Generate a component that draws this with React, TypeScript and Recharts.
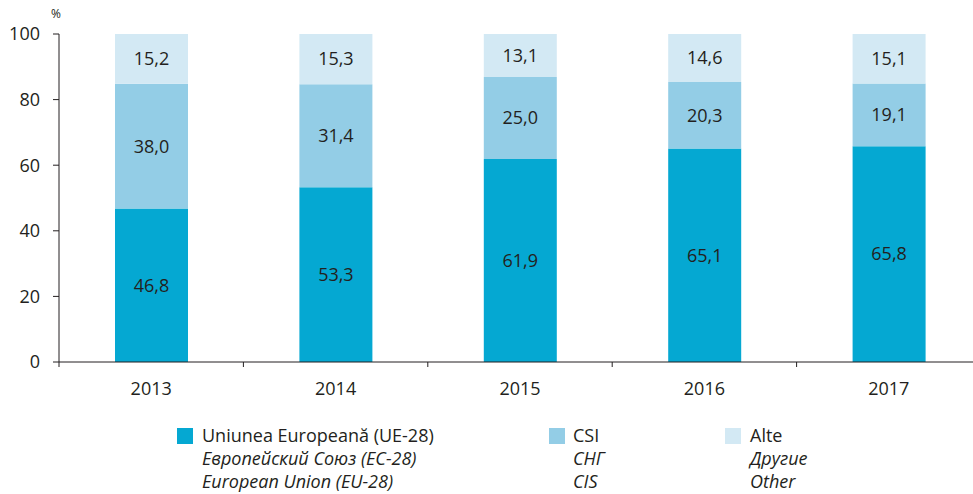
import { BarChart, Bar, XAxis, YAxis, LabelList } from 'recharts';

const YEARS = ['2013', '2014', '2015', '2016', '2017'];
const EU = [46.8, 53.3, 61.9, 65.1, 65.8];
const CIS = [38.0, 31.4, 25.0, 20.3, 19.1];
const OTHER = [15.2, 15.3, 13.1, 14.6, 15.1];
const Y_TICKS = [0, 20, 40, 60, 80, 100];

const SERIES = [
  { key: 'eu', color: '#05a8d2', lines: ['Uniunea Europeană (UE-28)', 'Европейский Союз (ЕС-28)', 'European Union (EU-28)'] },
  { key: 'cis', color: '#93cde6', lines: ['CSI', 'СНГ', 'CIS'] },
  { key: 'other', color: '#d3e9f4', lines: ['Alte', 'Другие', 'Other'] },
];

const data = YEARS.map((year, i) => ({ year, eu: EU[i], cis: CIS[i], other: OTHER[i] }));

const INK = '#231f20';
const FONT = '"Open Sans", sans-serif';
const FS = 18;
const CHART_W = 981;
const Y_AXIS_W = 59;
const HALF_BAND = (CHART_W - Y_AXIS_W) / YEARS.length / 2;

const fmt = (v: unknown) => Number(v).toFixed(1).replace('.', ',');

const YearTick = (props: { x?: number; y?: number; payload?: { value: string }; index?: number }) => {
  const { x = 0, y = 0, payload, index = 0 } = props;
  return (
    <g>
      {index === 0 && <line x1={x - HALF_BAND} x2={x - HALF_BAND} y1={y} y2={y + 5} stroke={INK} />}
      <line x1={x + HALF_BAND} x2={x + HALF_BAND} y1={y} y2={y + 5} stroke={INK} />
      <text x={x} y={y + 33} textAnchor="middle" fill={INK} fontSize={FS} fontFamily={FONT}>
        {payload?.value}
      </text>
    </g>
  );
};

const legendPos = [
  { left: 177, text: 202 },
  { left: 549, text: 573 },
  { left: 725, text: 750 },
];

export default function App() {
  return (
    <div style={{ position: 'absolute', left: 0, top: 0, width: 973, height: 494, overflow: 'hidden', background: '#fff', fontFamily: FONT, color: INK }}>
      <div style={{ position: 'absolute', left: 51, top: 5, fontSize: 12 }}>%</div>
      <BarChart width={CHART_W} height={400} data={data} margin={{ top: 34, right: 0, left: 0, bottom: 0 }} barCategoryGap={0}>
        <XAxis
          dataKey="year"
          height={38}
          tickLine={false}
          tickSize={0}
          tickMargin={0}
          axisLine={{ stroke: INK }}
          tick={<YearTick />}
          interval={0}
        />
        <YAxis
          width={Y_AXIS_W}
          domain={[0, 100]}
          ticks={Y_TICKS}
          interval={0}
          tickSize={6}
          tickMargin={13}
          axisLine={{ stroke: INK }}
          tickLine={{ stroke: INK }}
          tick={{ fill: INK, fontSize: FS, fontFamily: FONT }}
        />
        {SERIES.map((s) => (
          <Bar key={s.key} dataKey={s.key} stackId="a" fill={s.color} barSize={73} isAnimationActive={false}>
            <LabelList dataKey={s.key} position="center" formatter={fmt} fill={INK} fontSize={FS} fontFamily={FONT} />
          </Bar>
        ))}
      </BarChart>
      {SERIES.map((s, i) => (
        <div key={s.key}>
          <div style={{ position: 'absolute', left: legendPos[i].left, top: 428, width: 16, height: 16, background: s.color }} />
          <div style={{ position: 'absolute', left: legendPos[i].text, top: 424, fontSize: FS, lineHeight: '23px', whiteSpace: 'nowrap' }}>
            {s.lines.map((l, j) => (
              <div key={j} style={{ fontStyle: j === 0 ? 'normal' : 'italic' }}>{l}</div>
            ))}
          </div>
        </div>
      ))}
    </div>
  );
}
